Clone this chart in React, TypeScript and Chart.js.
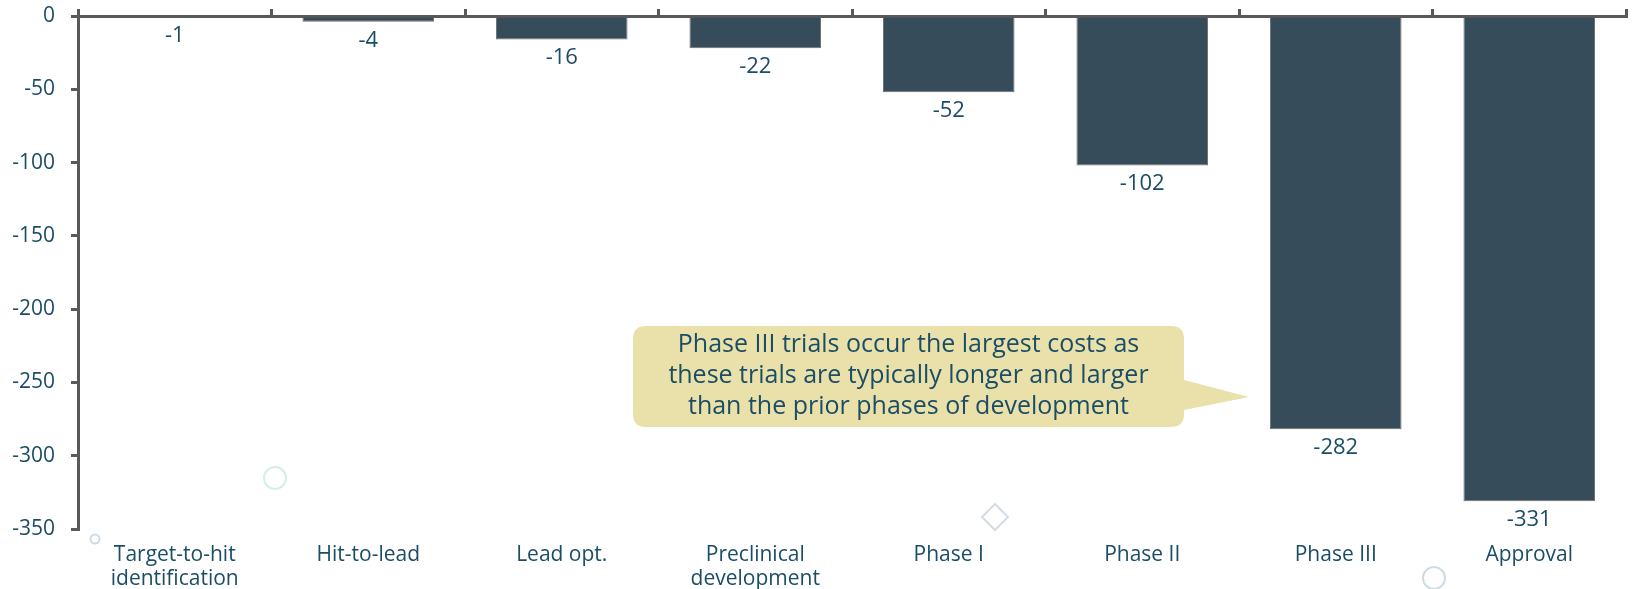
import React, { useEffect, useRef } from "react";
import { Chart, registerables } from "chart.js";

Chart.register(...registerables);

const categories: (string | string[])[] = [
  ["Target-to-hit", "identification"],
  "Hit-to-lead",
  "Lead opt.",
  ["Preclinical", "development"],
  "Phase I",
  "Phase II",
  "Phase III",
  "Approval",
];
const costValues = [-1, -4, -16, -22, -52, -102, -282, -331];
const yMin = -350;
const yMax = 0;
const yStep = 50;
const calloutLines = [
  "Phase III trials occur the largest costs as",
  "these trials are typically longer and larger",
  "than the prior phases of development",
];

const FONT = "'Open Sans', 'Noto Sans', sans-serif";
const TEXT = "#1b4d66";
const AXIS = "#595959";
const BAR = "#364c5b";

const overlayPlugin = {
  id: "overlay",
  beforeDatasetsDraw(chart: any) {
    const ctx = chart.ctx;
    ctx.save();
    ctx.lineWidth = 2;
    ctx.strokeStyle = "#cfdbe2";
    ctx.beginPath();
    ctx.arc(95, 539, 4.5, 0, Math.PI * 2);
    ctx.stroke();
    ctx.strokeStyle = "#d3efe6";
    ctx.beginPath();
    ctx.arc(275, 478, 11, 0, Math.PI * 2);
    ctx.stroke();
    ctx.strokeStyle = "#d2dde4";
    ctx.beginPath();
    ctx.moveTo(995, 504);
    ctx.lineTo(1008, 517);
    ctx.lineTo(995, 530);
    ctx.lineTo(982, 517);
    ctx.closePath();
    ctx.stroke();
    ctx.strokeStyle = "#cfdbe2";
    ctx.beginPath();
    ctx.arc(1434, 578, 11, 0, Math.PI * 2);
    ctx.stroke();
    ctx.restore();
  },
  afterDatasetsDraw(chart: any) {
    const ctx = chart.ctx;
    const meta = chart.getDatasetMeta(0);
    ctx.save();
    ctx.font = `22px ${FONT}`;
    ctx.fillStyle = TEXT;
    ctx.textAlign = "center";
    ctx.textBaseline = "middle";
    meta.data.forEach((bar: any, i: number) => {
      ctx.fillText(String(costValues[i]), bar.x, bar.y + 18.5);
    });

    const L = 633, R = 1184, T = 326, B = 427, r = 13;
    ctx.fillStyle = "#e9e1a9";
    ctx.beginPath();
    ctx.moveTo(L + r, T);
    ctx.lineTo(R - r, T);
    ctx.quadraticCurveTo(R, T, R, T + r);
    ctx.lineTo(R, 380);
    ctx.lineTo(1249, 397);
    ctx.lineTo(R, 410);
    ctx.lineTo(R, B - r);
    ctx.quadraticCurveTo(R, B, R - r, B);
    ctx.lineTo(L + r, B);
    ctx.quadraticCurveTo(L, B, L, B - r);
    ctx.lineTo(L, T + r);
    ctx.quadraticCurveTo(L, T, L + r, T);
    ctx.closePath();
    ctx.fill();
    ctx.fillStyle = TEXT;
    ctx.font = `25px ${FONT}`;
    const cx = (L + R) / 2;
    calloutLines.forEach((line, i) => {
      ctx.fillText(line, cx, 345 + i * 31);
    });
    ctx.restore();
  },
};

export default function App() {
  const canvasRef = useRef<HTMLCanvasElement | null>(null);

  useEffect(() => {
    document.body.style.margin = "0";
    const canvas = canvasRef.current;
    if (!canvas) return;
    const chart = new Chart(canvas, {
      type: "bar",
      data: {
        labels: categories as any,
        datasets: [
          {
            data: costValues,
            backgroundColor: BAR,
            borderColor: "#6f6f6f",
            borderWidth: 1,
            categoryPercentage: 1,
            barPercentage: 0.68,
            xAxisID: "x",
          },
        ],
      },
      options: {
        animation: false,
        responsive: false,
        maintainAspectRatio: false,
        layout: { padding: { left: 0, right: 6, top: 0, bottom: 0 } },
        plugins: {
          legend: { display: false },
          tooltip: { enabled: false },
        },
        scales: {
          x: {
            type: "category",
            position: "bottom",
            grid: { display: false },
            border: { display: false },
            ticks: {
              color: TEXT,
              font: { family: FONT, size: 21, lineHeight: 1.14 },
              padding: 6,
              maxRotation: 0,
              autoSkip: false,
            },
            afterFit: (s: any) => {
              s.height = 60;
            },
          },
          xTop: {
            type: "category",
            position: "top",
            labels: categories as any,
            offset: true,
            grid: {
              display: true,
              drawOnChartArea: false,
              drawTicks: true,
              tickLength: 7,
              color: AXIS,
              lineWidth: 3,
              offset: true,
            },
            border: { display: true, color: AXIS, width: 3 },
            ticks: { display: false, autoSkip: false },
            afterFit: (s: any) => {
              s.height = 16;
            },
          },
          y: {
            min: yMin,
            max: yMax,
            ticks: {
              stepSize: yStep,
              color: TEXT,
              font: { family: FONT, size: 21 },
              padding: 16,
            },
            grid: {
              display: true,
              drawOnChartArea: false,
              drawTicks: true,
              tickLength: 7,
              color: AXIS,
              lineWidth: 3,
            },
            border: { display: true, color: AXIS, width: 3 },
            afterFit: (s: any) => {
              s.width = 78;
              s.paddingTop = 0;
              s.paddingBottom = 0;
            },
          },
        },
      } as any,
      plugins: [overlayPlugin],
    });
    return () => chart.destroy();
  }, []);

  return (
    <div style={{ position: "fixed", left: 0, top: 0, width: 1632, height: 589, background: "#fff" }}>
      <canvas ref={canvasRef} width={1632} height={589} style={{ width: 1632, height: 589, display: "block" }} />
    </div>
  );
}
